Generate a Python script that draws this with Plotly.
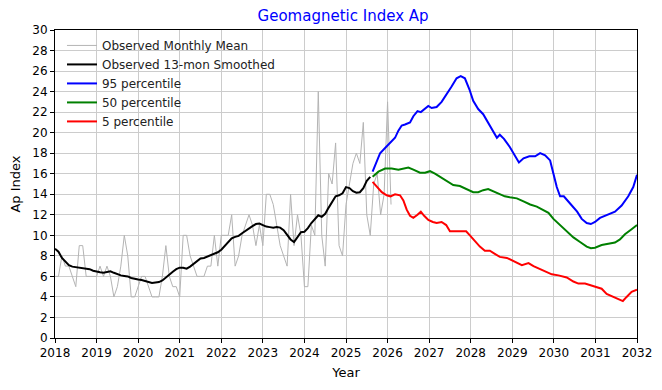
import plotly.graph_objects as go

# ---------------- data ----------------
obs_start_year = 2018
monthly_ap = [
    6, 6, 8, 7, 7, 6, 5, 9, 9, 6, 6, 6,          # 2018
    6, 7, 6, 7, 6, 4, 5, 7, 10, 8, 4, 4,         # 2019
    5, 6, 6, 5, 4, 4, 4, 6, 9, 6, 5, 5,          # 2020
    4, 10, 10, 8, 7, 6, 6, 6, 7, 7, 10, 7,       # 2021
    10, 10, 10, 12, 7, 8, 10, 11, 12, 11, 9, 11, # 2022
    9, 14, 14, 13, 11, 9, 8, 7, 14, 9, 12, 10,   # 2023
    5, 5, 11, 10, 24, 10, 7, 16, 15, 19, 9, 8,   # 2024
    13, 15, 17, 18, 17, 21, 12, 10, 15, 16, 12, 14,  # 2025
    23, 13,                                      # 2026
]
smoothed_ap = [
    8.7, 8.4, 7.8, 7.4, 7.1, 6.95, 6.9, 6.9, 6.85, 6.75, 6.7, 6.55,
    6.45, 6.4, 6.35, 6.45, 6.5, 6.35, 6.2, 6.1, 6.05, 6.0, 5.85, 5.75,
    5.7, 5.65, 5.55, 5.45, 5.35, 5.4, 5.45, 5.6, 5.9, 6.2, 6.45, 6.7,
    6.85, 6.85, 6.75, 6.95, 7.2, 7.5, 7.75, 7.8, 7.95, 8.1, 8.2, 8.35,
    8.6, 9.0, 9.4, 9.7, 9.85, 9.95, 10.2, 10.45, 10.65, 10.9, 11.1, 11.15,
    11.0, 10.85, 10.8, 10.75, 10.8, 10.75, 10.5, 10.0, 9.6, 9.35, 9.8, 10.3,
    10.35, 10.7, 11.2, 11.6, 11.95, 11.8, 12.1, 12.7, 13.3, 13.8, 13.9, 14.1,
    14.7, 14.6, 14.3, 14.15, 14.2, 14.6, 15.3, 15.7,
]

p95_years = [2025.64, 2025.72, 2025.82, 2025.94, 2026.06, 2026.18, 2026.26, 2026.34,
             2026.42, 2026.54, 2026.62, 2026.72, 2026.80, 2026.90, 2026.98, 2027.06,
             2027.18, 2027.30, 2027.42, 2027.54, 2027.66, 2027.76, 2027.86, 2027.97,
             2028.06, 2028.18, 2028.30, 2028.42, 2028.54, 2028.63, 2028.70, 2028.80,
             2028.94, 2029.06, 2029.16, 2029.27, 2029.41, 2029.55, 2029.67, 2029.79,
             2029.91, 2029.99, 2030.07, 2030.15, 2030.24, 2030.39, 2030.56, 2030.67,
             2030.79, 2030.89, 2030.99, 2031.11, 2031.27, 2031.47, 2031.63, 2031.79,
             2031.91, 2032.0]
p95_ap = [16.2, 17.0, 18.0, 18.5, 19.0, 19.5, 20.2, 20.7,
          20.8, 21.0, 21.6, 22.1, 22.0, 22.3, 22.6, 22.4,
          22.5, 23.0, 23.7, 24.5, 25.3, 25.5, 25.3, 24.2,
          23.1, 22.3, 21.8, 21.0, 20.2, 19.5, 19.8, 19.4,
          18.6, 17.8, 17.1, 17.5, 17.7, 17.7, 18.0, 17.8,
          17.3, 16.0, 14.7, 13.8, 13.8, 13.1, 12.3, 11.6,
          11.2, 11.1, 11.3, 11.7, 12.0, 12.3, 12.9, 13.8,
          14.7, 15.9]

p50_years = [2025.64, 2025.78, 2025.94, 2026.10, 2026.26, 2026.38, 2026.50, 2026.62,
             2026.78, 2026.90, 2027.02, 2027.14, 2027.30, 2027.46, 2027.58, 2027.74,
             2027.90, 2028.06, 2028.18, 2028.30, 2028.42, 2028.54, 2028.70, 2028.82,
             2028.94, 2029.11, 2029.27, 2029.43, 2029.59, 2029.75, 2029.87, 2029.99,
             2030.15, 2030.31, 2030.47, 2030.63, 2030.79, 2030.89, 2030.99, 2031.15,
             2031.31, 2031.47, 2031.59, 2031.71, 2031.87, 2032.0]
p50_ap = [15.7, 16.2, 16.5, 16.5, 16.4, 16.5, 16.6, 16.4,
          16.1, 16.1, 16.25, 16.0, 15.6, 15.2, 14.9, 14.8,
          14.5, 14.2, 14.2, 14.4, 14.5, 14.3, 14.0, 13.8,
          13.7, 13.6, 13.3, 13.0, 12.8, 12.5, 12.2, 11.6,
          11.0, 10.4, 9.8, 9.35, 8.9, 8.75, 8.8, 9.05,
          9.15, 9.3, 9.6, 10.1, 10.6, 11.0]

p5_years = [2025.64, 2025.74, 2025.86, 2025.98, 2026.07, 2026.18, 2026.30, 2026.38,
            2026.46, 2026.54, 2026.62, 2026.72, 2026.80, 2026.88, 2026.98, 2027.09,
            2027.18, 2027.30, 2027.41, 2027.50, 2027.62, 2027.74, 2027.89, 2027.98,
            2028.10, 2028.22, 2028.34, 2028.46, 2028.58, 2028.70, 2028.87, 2029.06,
            2029.23, 2029.39, 2029.51, 2029.67, 2029.79, 2029.95, 2030.11, 2030.31,
            2030.47, 2030.59, 2030.75, 2030.91, 2031.03, 2031.15, 2031.27, 2031.43,
            2031.55, 2031.66, 2031.75, 2031.87, 2032.0]
p5_ap = [15.2, 14.7, 14.2, 13.9, 13.8, 14.0, 13.9, 13.4,
         12.5, 11.9, 11.7, 12.0, 12.3, 11.9, 11.5, 11.3,
         11.2, 11.3, 11.0, 10.4, 10.4, 10.4, 10.4, 10.0,
         9.4, 8.9, 8.5, 8.5, 8.2, 7.9, 7.8, 7.4,
         7.1, 7.3, 7.0, 6.7, 6.5, 6.2, 6.1, 5.9,
         5.5, 5.3, 5.3, 5.1, 4.9, 4.8, 4.3, 4.0,
         3.8, 3.6, 4.0, 4.5, 4.7]

x_ticks = list(range(2018, 2033))
y_ticks = list(range(0, 31, 2))

monthly_years = [obs_start_year + i / 12 for i in range(len(monthly_ap))]
smoothed_years = [obs_start_year + i / 12 for i in range(len(smoothed_ap))]

# ---------------- figure ----------------
fig = go.Figure()
fig.add_trace(go.Scatter(x=monthly_years, y=monthly_ap, mode="lines",
                         name="Observed Monthly Mean",
                         line=dict(color="#b4b4b4", width=1)))
fig.add_trace(go.Scatter(x=smoothed_years, y=smoothed_ap, mode="lines",
                         name="Observed 13-mon Smoothed",
                         line=dict(color="black", width=2)))
fig.add_trace(go.Scatter(x=p95_years, y=p95_ap, mode="lines", name="95 percentile",
                         line=dict(color="blue", width=2)))
fig.add_trace(go.Scatter(x=p50_years, y=p50_ap, mode="lines", name="50 percentile",
                         line=dict(color="green", width=2)))
fig.add_trace(go.Scatter(x=p5_years, y=p5_ap, mode="lines", name="5 percentile",
                         line=dict(color="red", width=2)))

axis_common = dict(
    showline=True, linecolor="black", linewidth=1, mirror=True,
    ticks="outside", ticklen=4, tickcolor="black",
    showgrid=True, gridcolor="#cccccc", gridwidth=1,
    zeroline=False,
    tickfont=dict(family="DejaVu Sans", size=12, color="black"),
)

W, H = 654, 382
fig.update_layout(
    width=W, height=H,
    margin=dict(l=47, r=25, t=22, b=52, autoexpand=False),
    paper_bgcolor="white", plot_bgcolor="white",
    font=dict(family="DejaVu Sans", color="black"),
    title=dict(text="Geomagnetic Index Ap", x=0.495, xref="paper", xanchor="center",
               y=1 - 8 / H, yanchor="middle", yref="container",
               font=dict(family="DejaVu Sans", size=15, color="blue")),
    xaxis=dict(axis_common, range=[2018, 2032], tickvals=x_ticks, automargin=False,
               title=dict(text="Year", font=dict(size=13), standoff=8)),
    yaxis=dict(axis_common, range=[0, 30], tickvals=y_ticks, automargin=False,
               title=dict(text="Ap Index", font=dict(size=13), standoff=8)),
    showlegend=True,
    legend=dict(x=0.012, y=0.997, xanchor="left", yanchor="top",
                bgcolor="rgba(255,255,255,0)", borderwidth=0,
                font=dict(family="DejaVu Sans", size=12, color="#222222"),
                itemwidth=30, tracegroupgap=0),
)

fig.write_html("out.html")
